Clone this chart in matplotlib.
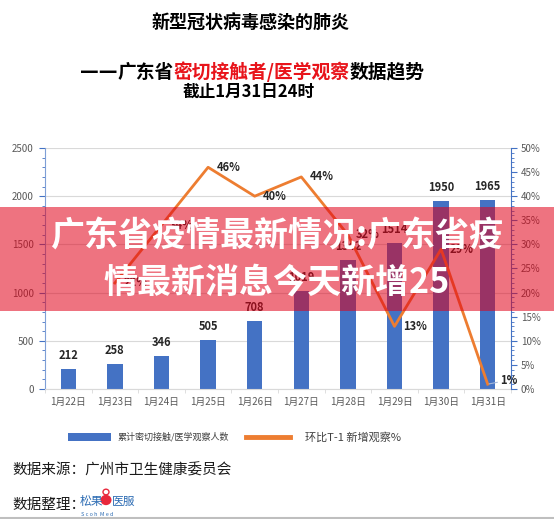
import matplotlib
matplotlib.use("Agg")
import matplotlib.pyplot as plt
from matplotlib.patches import Rectangle, Circle
from matplotlib.lines import Line2D
from matplotlib.ticker import MultipleLocator, PercentFormatter
import numpy as np

plt.rcParams['font.family'] = ['Noto Sans CJK SC', 'DejaVu Sans']

# ---- data ----
dates = ["1月22日", "1月23日", "1月24日", "1月25日", "1月26日",
         "1月27日", "1月28日", "1月29日", "1月30日", "1月31日"]
cumulative = [212, 258, 346, 505, 708, 1019, 1342, 1514, 1950, 1965]
growth_pct = [None, 22, 34, 46, 40, 44, 32, 13, 29, 1]

bar_label = "累计密切接触/医学观察人数"
line_label = "环比T-1 新增观察%"
title1 = "新型冠状病毒感染的肺炎"
title2_parts = [("——", "black", ["DejaVu Sans"]),
                ("广东省", "black", None),
                ("密切接触者/医学观察", "#E8141B", None),
                ("数据趋势", "black", None)]
title3 = "截止1月31日24时"
banner1 = "广东省疫情最新情况:广东省疫"
banner2 = "情最新消息今天新增25"
source_text = "数据来源：广州市卫生健康委员会"
arrange_text = "数据整理："

W, H = 554, 519
fig = plt.figure(figsize=(W / 100, H / 100), dpi=100)
fig.patch.set_facecolor("white")

BLUE = "#4472C4"
ORANGE = "#ED7D31"
GRID = "#D9D9D9"
TICK = "#595959"

def fx(px):
    return px / W

def fy(py):
    return 1 - py / H

ax = fig.add_axes([fx(45), fy(389), fx(511) - fx(45), fy(148) - fy(389)])
x = np.arange(len(dates))
ax.bar(x, cumulative, width=0.33, color=BLUE, zorder=2)
ax.set_xlim(-0.5, len(dates) - 0.5)
ax.set_ylim(0, 2500)
ax.yaxis.set_major_locator(MultipleLocator(500))
ax.yaxis.set_minor_locator(MultipleLocator(100))
ax.grid(axis="y", color=GRID, linewidth=0.8, zorder=0)
ax.set_axisbelow(True)
ax.set_xticks(x)
ax.set_xticklabels(dates, fontsize=7, color=TICK)
ax.set_xticks(np.arange(-0.5, len(dates), 1.0), minor=True)
ax.tick_params(axis="x", which="major", length=0, pad=6)
ax.tick_params(axis="x", which="minor", length=3, color=GRID)
ax.tick_params(axis="y", which="both", colors=BLUE, labelcolor=TICK, labelsize=7, direction="out")
ax.tick_params(axis="y", which="major", length=4, pad=4)
ax.tick_params(axis="y", which="minor", length=2.5)
for s in ["top", "right"]:
    ax.spines[s].set_visible(False)
ax.spines["left"].set_color("#7F9FD6")
ax.spines["bottom"].set_color(GRID)

for xi, v in zip(x, cumulative):
    ax.annotate(str(v), (xi, v), xytext=(0, 5), textcoords="offset points",
                ha="center", va="bottom", fontsize=8, fontweight="bold", color="#262626")

ax2 = ax.twinx()
ax2.set_ylim(0, 50)
ax2.yaxis.set_major_locator(MultipleLocator(5))
ax2.yaxis.set_minor_locator(MultipleLocator(1))
ax2.yaxis.set_major_formatter(PercentFormatter(decimals=0))
ax2.tick_params(axis="y", which="both", colors=BLUE, labelcolor=TICK, labelsize=7, direction="out")
ax2.tick_params(axis="y", which="major", length=4, pad=3)
ax2.tick_params(axis="y", which="minor", length=2)
for s in ["top", "left", "bottom"]:
    ax2.spines[s].set_visible(False)
ax2.spines["right"].set_color(BLUE)

lx = [xi for xi, g in zip(x, growth_pct) if g is not None]
ly = [g for g in growth_pct if g is not None]
ax2.plot(lx, ly, color=ORANGE, linewidth=2, zorder=3)
for xi, g in zip(lx, ly):
    if g == 1:
        ax2.annotate(f"{g}%", (xi, g), xytext=(9, 3), textcoords="offset points",
                     ha="left", va="center", fontsize=8, fontweight="bold", color="#262626",
                     arrowprops=dict(arrowstyle="-", color="#A6B8D8", lw=0.8, shrinkA=0, shrinkB=1))
    else:
        ax2.annotate(f"{g}%", (xi, g), xytext=(6, 0), textcoords="offset points",
                     ha="left", va="center", fontsize=8, fontweight="bold", color="#262626")

# ---- titles ----
fig.text(0.5 * (fx(150) + fx(352)), fy(23), title1, ha="center", va="center",
         fontsize=13, fontweight="bold", color="black")
fig.text(0.5 * (fx(183) + fx(315)), fy(92), title3, ha="center", va="center",
         fontsize=12, fontweight="bold", color="black")

fig.canvas.draw()
renderer = fig.canvas.get_renderer()
cur = fx(80)
for txt, col, fam in title2_parts:
    kw = {"family": fam} if fam else {}
    t = fig.text(cur, fy(72), txt, ha="left", va="center", fontsize=13.5,
                 fontweight="bold", color=col, **kw)
    bb = t.get_window_extent(renderer=renderer)
    cur += bb.width / W

# ---- legend ----
fig.patches.append(Rectangle((fx(68), fy(441)), fx(111) - fx(68), fy(433) - fy(441),
                             transform=fig.transFigure, facecolor=BLUE, edgecolor="none"))
fig.text(fx(118), fy(437), bar_label, ha="left", va="center", fontsize=6.5, color="#404040")
fig.lines.append(Line2D([fx(246), fx(290)], [fy(437), fy(437)], transform=fig.transFigure,
                        color=ORANGE, linewidth=3.5))
fig.text(fx(305), fy(437), line_label, ha="left", va="center", fontsize=8, color="#404040")

# ---- footer ----
fig.text(fx(12), fy(470), source_text, ha="left", va="center", fontsize=10.5, color="#1a1a1a")
fig.text(fx(12), fy(505), arrange_text, ha="left", va="center", fontsize=10.5, color="#1a1a1a")
fig.text(fx(80), fy(501), "松果", ha="left", va="center", fontsize=8.5, color="#2E6DB4")
fig.patches.append(Circle((fx(106), fy(500)), 5.5 / W, transform=fig.transFigure,
                          facecolor="#E8283C", edgecolor="none"))
fig.patches.append(Circle((fx(106), fy(492)), 3.0 / W, transform=fig.transFigure,
                          facecolor="white", edgecolor="#E8283C", linewidth=1))
fig.text(fx(112), fy(501), "医服", ha="left", va="center", fontsize=8.5, color="#2E6DB4")
fig.text(fx(81), fy(514), "S c o h  M e d", ha="left", va="center", fontsize=4, color="#2E6DB4")
fig.lines.append(Line2D([0, 1], [fy(518), fy(518)], transform=fig.transFigure,
                        color="#BFBFBF", linewidth=1.5))

# ---- banner overlay ----
fig.patches.append(Rectangle((0, fy(311)), 1, fy(207) - fy(311), transform=fig.transFigure,
                             facecolor=(224 / 255, 0, 24 / 255), alpha=0.55, edgecolor="none",
                             zorder=10))
fig.text(fx(277), fy(236), banner1, ha="center", va="center", fontsize=24.5,
         fontweight="bold", color="white", zorder=11)
fig.text(fx(277), fy(282), banner2, ha="center", va="center", fontsize=24.5,
         fontweight="bold", color="white", zorder=11)

fig.savefig("out.png", dpi=100, facecolor="white")
